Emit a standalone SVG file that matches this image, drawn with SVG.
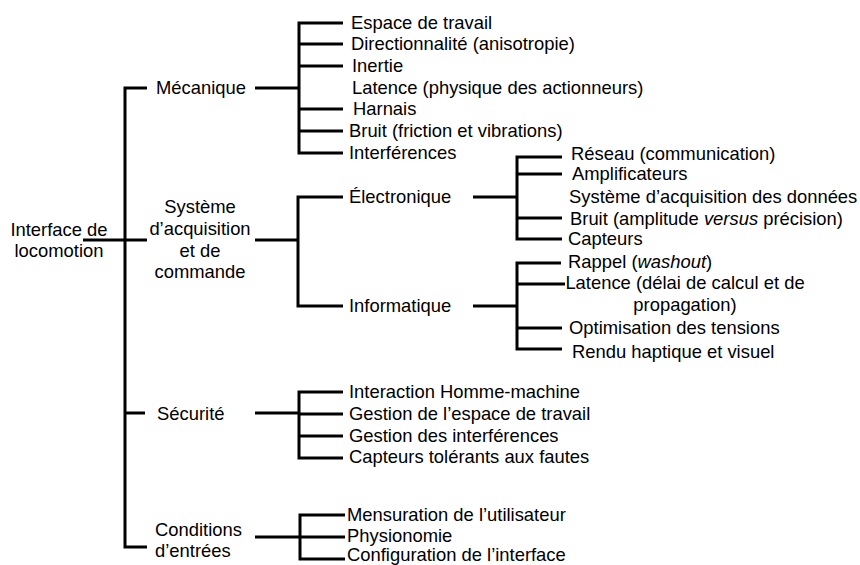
<svg xmlns="http://www.w3.org/2000/svg" width="860" height="565" viewBox="0 0 860 565">
  <style>
    text { font-family: "Liberation Sans", Arial, sans-serif; font-size: 18.4px; fill: #000; }
    .mid { text-anchor: middle; }
    .c { fill: none; stroke: #000; stroke-width: 3; stroke-linecap: butt; stroke-linejoin: miter; }
  </style>
  <rect width="860" height="565" fill="#fff"/>

  <!-- tree connectors: brackets and leaf stubs -->
  <g id="connectors">
    <!-- root and main bracket -->
    <path class="c" d="M83,240 H147"/>
    <path class="c" d="M147,88 H125 V547 H147"/>
    <path class="c" d="M125,413 H145"/>
    <!-- Mécanique -->
    <path class="c" d="M255,88 H299"/>
    <path class="c" d="M343,23 H299 V153 H343"/>
    <path class="c" d="M299,44 H343 M299,66 H343 M299,109 H343 M299,131 H343"/>
    <!-- Système d'acquisition et de commande -->
    <path class="c" d="M255,240 H298"/>
    <path class="c" d="M343,197 H298 V306 H343"/>
    <!-- Électronique -->
    <path class="c" d="M473,197 H517"/>
    <path class="c" d="M562,157 H517 V239 H562"/>
    <path class="c" d="M517,174 H562 M517,218 H562"/>
    <!-- Informatique -->
    <path class="c" d="M473,306 H517"/>
    <path class="c" d="M561,263 H517 V349 H562"/>
    <path class="c" d="M517,284 H565 M517,328 H562"/>
    <!-- Sécurité -->
    <path class="c" d="M255,413 H299"/>
    <path class="c" d="M343,392 H299 V458 H343"/>
    <path class="c" d="M299,414 H343 M299,436 H343"/>
    <!-- Conditions d'entrées -->
    <path class="c" d="M255,537 H300"/>
    <path class="c" d="M345,515 H300 V559 H345"/>
    <path class="c" d="M300,537 H345"/>
  </g>

  <g id="root">
    <text class="mid" x="59" y="236">Interface de</text>
    <text class="mid" x="59" y="257">locomotion</text>
  </g>

  <g id="mecanique">
    <text x="156" y="94">Mécanique</text>
  </g>
  <g id="mecanique-items">
    <text x="351" y="29">Espace de travail</text>
    <text x="351" y="50">Directionnalité (anisotropie)</text>
    <text x="352" y="72">Inertie</text>
    <text x="352" y="94">Latence (physique des actionneurs)</text>
    <text x="353" y="115">Harnais</text>
    <text x="349" y="137">Bruit (friction et vibrations)</text>
    <text x="349" y="159">Interférences</text>
  </g>

  <g id="systeme">
    <text class="mid" x="200" y="213">Système</text>
    <text class="mid" x="200" y="235">d’acquisition</text>
    <text class="mid" x="200" y="257">et de</text>
    <text class="mid" x="200" y="278">commande</text>
  </g>

  <g id="electronique">
    <text x="349" y="203">Électronique</text>
  </g>
  <g id="electronique-items">
    <text x="571" y="160">Réseau (communication)</text>
    <text x="572" y="180">Amplificateurs</text>
    <text x="569" y="203">Système d’acquisition des données</text>
    <text x="570" y="225">Bruit (amplitude <tspan font-style="italic">versus</tspan> précision)</text>
    <text x="568" y="245">Capteurs</text>
  </g>

  <g id="informatique">
    <text x="349" y="312">Informatique</text>
  </g>
  <g id="informatique-items">
    <text x="568" y="268">Rappel (<tspan font-style="italic">washout</tspan>)</text>
    <text class="mid" x="685" y="289">Latence (délai de calcul et de</text>
    <text class="mid" x="685" y="311">propagation)</text>
    <text x="569" y="334">Optimisation des tensions</text>
    <text x="572" y="358">Rendu haptique et visuel</text>
  </g>

  <g id="securite">
    <text x="157" y="420">Sécurité</text>
  </g>
  <g id="securite-items">
    <text x="349" y="398">Interaction Homme-machine</text>
    <text x="349" y="420">Gestion de l’espace de travail</text>
    <text x="349" y="442">Gestion des interférences</text>
    <text x="349" y="463">Capteurs tolérants aux fautes</text>
  </g>

  <g id="conditions">
    <text x="155" y="536">Conditions</text>
    <text x="155" y="557">d’entrées</text>
  </g>
  <g id="conditions-items">
    <text x="347" y="521">Mensuration de l’utilisateur</text>
    <text x="347" y="542">Physionomie</text>
    <text x="347" y="561">Configuration de l’interface</text>
  </g>
</svg>
